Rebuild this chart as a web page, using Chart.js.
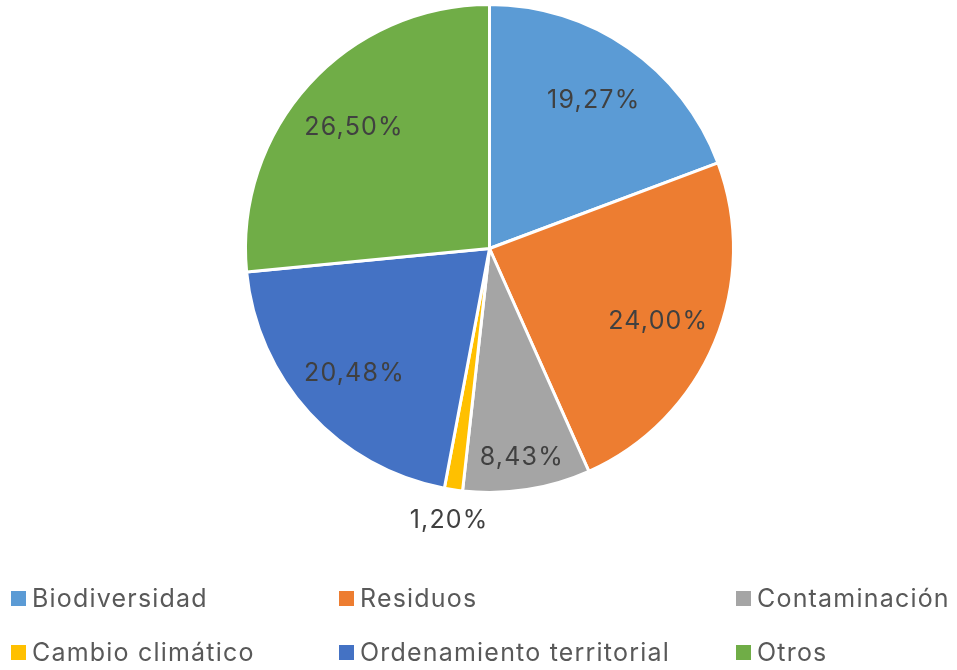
<!DOCTYPE html>
<html>
<head>
<meta charset="utf-8">
<script src="https://cdn.jsdelivr.net/npm/chart.js@4.4.1/dist/chart.umd.min.js"></script>
<style>
  html, body { margin: 0; padding: 0; background: #fff; }
  #wrap { position: relative; width: 957px; height: 670px; }
  #chart { position: absolute; left: 0; top: 0; }
  #legend { position: absolute; left: 0; top: 0; width: 957px; height: 670px; pointer-events: none;
            font-family: Inter, sans-serif; font-size: 25px; letter-spacing: 1.2px; color: #595959; }
  .item { position: absolute; display: flex; align-items: center; height: 30px; white-space: nowrap; }
  .box { width: 15px; height: 15px; margin-right: 6px; }
</style>
</head>
<body>
<div id="wrap">
  <canvas id="chart" width="957" height="670"></canvas>
  <div id="legend"></div>
</div>
<script>
// categories and values (%)
const categories = ['Biodiversidad', 'Residuos', 'Contaminación', 'Cambio climático', 'Ordenamiento territorial', 'Otros'];
const values = [19.27, 24.00, 8.43, 1.20, 20.48, 26.50];
const valueLabels = ['19,27%', '24,00%', '8,43%', '1,20%', '20,48%', '26,50%'];
const colors = ['#5B9BD5', '#ED7D31', '#A5A5A5', '#FFC000', '#4472C4', '#70AD47'];

// draws the percentage labels on/near each slice
const sliceLabels = {
    id: 'sliceLabels',
    afterDatasetsDraw(chart) {
        const ctx = chart.ctx;
        const meta = chart.getDatasetMeta(0);
        ctx.save();
        ctx.font = '25px Inter, sans-serif';
        ctx.letterSpacing = '1.2px';
        ctx.fillStyle = '#404040';
        ctx.textAlign = 'center';
        ctx.textBaseline = 'middle';
        meta.data.forEach((arc, i) => {
            const p = arc.getProps(['x', 'y', 'startAngle', 'endAngle', 'outerRadius'], true);
            const mid = (p.startAngle + p.endAngle) / 2;
            const share = values[i] / values.reduce((a, b) => a + b, 0);
            let r;
            if (share < 0.03) r = p.outerRadius + 29;
            else if (share < 0.1) r = p.outerRadius * 0.86;
            else r = p.outerRadius * 0.75;
            ctx.fillText(valueLabels[i], p.x + Math.cos(mid) * r, p.y + Math.sin(mid) * r + 2);
        });
        ctx.restore();
    }
};

const ctx = document.getElementById('chart').getContext('2d');
new Chart(ctx, {
    type: 'pie',
    data: {
        labels: categories,
        datasets: [{
            data: values,
            backgroundColor: colors,
            borderColor: '#ffffff',
            borderWidth: 3
        }]
    },
    options: {
        responsive: false,
        animation: false,
        layout: { padding: { top: 3, bottom: 176, left: 22, right: 0 } },
        plugins: {
            legend: { display: false },
            tooltip: { enabled: false }
        }
    },
    plugins: [sliceLabels]
});

// legend, 3 columns x 2 rows
const legendCols = [11, 339, 736];
const legendRows = [583, 637];
const legend = document.getElementById('legend');
categories.forEach((name, i) => {
    const el = document.createElement('div');
    el.className = 'item';
    el.style.left = legendCols[i % 3] + 'px';
    el.style.top = legendRows[Math.floor(i / 3)] + 'px';
    el.innerHTML = '<span class="box" style="background:' + colors[i] + '"></span><span>' + name + '</span>';
    legend.appendChild(el);
});
</script>
</body>
</html>
